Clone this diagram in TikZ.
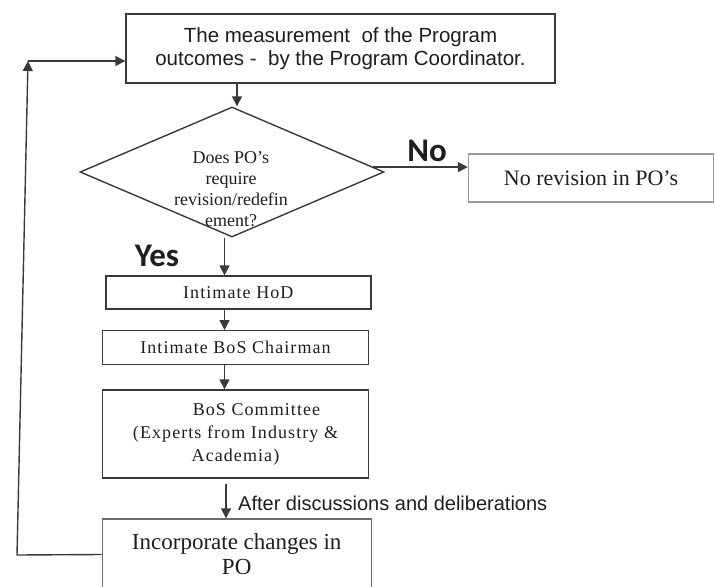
\documentclass[tikz,border=0pt]{standalone}
\usepackage{fontspec}
\setmainfont{Liberation Serif}
\newfontfamily\arialf{Liberation Sans}
\newfontfamily\calib{Carlito}
\newfontfamily\spacedserif{Liberation Serif}[LetterSpace=6]
\usetikzlibrary{shapes.geometric,arrows.meta}
\definecolor{linegray}{HTML}{3A3A3A}
\definecolor{lightgray}{HTML}{999999}
\definecolor{txt}{HTML}{1E1E1E}
\tikzset{
  box/.style={draw=linegray, line width=1.4pt, rectangle, inner sep=0pt, align=center, text=txt},
  lightbox/.style={box, draw=lightgray},
  arr/.style={draw=linegray, line width=1.4pt, -{Triangle[length=10pt,width=10pt]}},
  yesno/.style={font=\calib\bfseries\fontsize{33}{36}\selectfont, text=txt, inner sep=0pt}
}
\begin{document}
\begin{tikzpicture}[x=1pt,y=-1pt]
\useasboundingbox (0,0) rectangle (716,587);
\clip (0,0) rectangle (716,587);

% nodes
\node[box, minimum width=429pt, minimum height=69pt,
      font=\arialf\fontsize{20.5}{22.5}\selectfont] (top) at (340.5,48.5)
  {The measurement \ of the Program\\outcomes - \ by the Program Coordinator.};

\node[draw=linegray, line width=1.4pt, shape=diamond, inner sep=0pt,
      minimum width=304pt, minimum height=130pt, aspect=2.34] (dia) at (232,172) {};
\node[align=center, inner sep=0pt, text=txt,
      font=\fontsize{18}{21}\selectfont] (diatext) at (231,189)
  {Does PO's\\require\\revision/redefin\\ement?};

\node[lightbox, minimum width=245pt, minimum height=48pt,
      font=\fontsize{22}{24}\selectfont] (nobox) at (591,178) {No revision in PO's};

\node[box, minimum width=265pt, minimum height=33pt,
      font=\spacedserif\fontsize{18}{21}\selectfont] (hod) at (238.3,292.5) {Intimate HoD};

\node[box, minimum width=266pt, minimum height=34pt,
      font=\spacedserif\fontsize{18}{21}\selectfont] (chair) at (235.5,347.7) {Intimate BoS Chairman};

\node[box, minimum width=266pt, minimum height=88pt,
      font=\spacedserif\fontsize{18}{23}\selectfont] (comm) at (235.5,434)
  {\hspace*{42pt}BoS Committee\\(Experts from Industry \&\\Academia)};

\node[box, draw=gray!85!black, minimum width=269pt, minimum height=71pt,
      font=\fontsize{23}{25}\selectfont] (inc) at (236.7,554.5)
  {Incorporate changes in\\PO};

% labels
\node[yesno] (nolabel) at (427,151) {No};
\node[yesno] (yeslabel) at (157,256) {Yes};
\node[anchor=west, inner sep=0pt, text=txt,
      font=\arialf\fontsize{20}{22}\selectfont] (afterlabel) at (238,503)
  {After discussions and deliberations};

% helper coordinates
\coordinate (xa) at (224.5,0);
\coordinate (xb) at (226,0);
\coordinate (xt) at (237,0);
\coordinate (fbbot) at (17,555);
\coordinate (fbtop) at (28,61);
\coordinate (commout) at (226,484);

% connectors
\draw[arr] (top.south -| xt) -- (dia.north -| xt);
\draw[arr] (dia.2.5) -- (dia.2.5 -| nobox.west);
\draw[arr] (dia.south -| xa) -- (hod.north -| xa);
\draw[arr] (hod.south -| xa) -- (chair.north -| xa);
\draw[arr] (chair.south -| xa) -- (comm.north -| xa);
\draw[arr] (commout) -- (inc.north -| xb);
\draw[arr] (inc.west) -- (fbbot) -- (fbtop);
\draw[arr] (fbtop) -- (fbtop -| top.west);
\end{tikzpicture}
\end{document}
